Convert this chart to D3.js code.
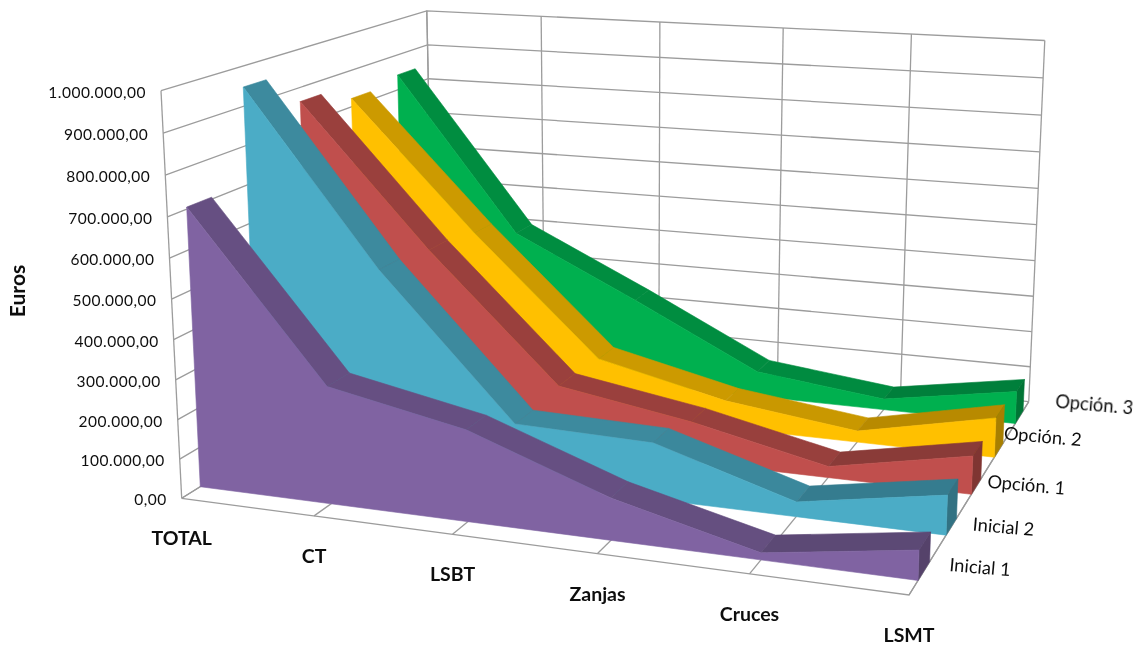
<!DOCTYPE html>
<html>
<head>
<meta charset="utf-8">
<title>Euros</title>
<script src="https://cdn.jsdelivr.net/npm/d3@7"></script>
<style>
  html, body { margin: 0; padding: 0; background: #fff; }
  svg { display: block; }
  text { font-family: Lato, "Open Sans", sans-serif; fill: #111; }
</style>
</head>
<body>
<svg id="drawing_region"></svg>
<script>
// data
const categories = ['TOTAL', 'CT', 'LSBT', 'Zanjas', 'Cruces', 'LSMT'];
const seriesNames = ['Inicial 1', 'Inicial 2', 'Opción. 1', 'Opción. 2', 'Opción. 3'];
const inicial1 = [705000, 295000, 227000, 103000, 17000, 71000];
const inicial2 = [948000, 511000, 151000, 143000, 37000, 98000];
const opcion1 = [863000, 494000, 163000, 106000, 29000, 98000];
const opcion2 = [823000, 474000, 154000, 74000, 30000, 105000];
const opcion3 = [843000, 408000, 244000, 71000, 30000, 89000];
const seriesValues = [inicial1, inicial2, opcion1, opcion2, opcion3];
const yTicks = [0, 100000, 200000, 300000, 400000, 500000, 600000, 700000, 800000, 900000, 1000000];

// colours
const frontColors = ['#8064a2', '#4bacc6', '#c0504d', '#ffc000', '#00b050'];
const topShade = [0.8, 0.8, 0.8, 0.79, 0.72];   // the top band gets darker to the right
const capShade = 0.66;
const gridColor = '#9c9c9c';

// where the box of the chart falls on screen, with its perspective weights
const box = {
  origin: [181.7, 498.3],
  xEnd: [909, 595],
  zEnd: [434, 341],
  yEnd: [161, 90.7],
  wx: 0.89,
  wz: 1.245,
  wy: 0.956
};

const width = 1139, height = 646;

const xScale = d3.scalePoint().domain(categories).range([0, 1]);
const yScale = d3.scaleLinear().domain([0, 1000000]).range([0, 1]);
const zScale = d3.scaleBand().domain(seriesNames).range([0, 1]).paddingInner(0.6).paddingOuter(0.3);

// x, z and y all go from 0 to 1 inside the box
function project(x, z, y) {
  const o = box.origin;
  const w = 1 + x * (box.wx - 1) + z * (box.wz - 1) + y * (box.wy - 1);
  const c = i => (o[i]
    + x * (box.wx * box.xEnd[i] - o[i])
    + z * (box.wz * box.zEnd[i] - o[i])
    + y * (box.wy * box.yEnd[i] - o[i])) / w;
  return [c(0), c(1)];
}

const euro = d3.formatLocale({ decimal: ',', thousands: '.', grouping: [3], currency: ['', '€'] }).format(',.2f');
const line = d3.line();
const polygon = pts => line(pts) + 'Z';
const shade = (color, k) => {
  const c = d3.rgb(color);
  return d3.rgb(c.r * k, c.g * k, c.b * k).formatHex();
};

const svg = d3.select('#drawing_region').attr('width', width).attr('height', height);

// the reference is a soft, scaled up picture
svg.append('defs').append('filter')
  .attr('id', 'soft')
  .attr('x', 0).attr('y', 0).attr('width', 1).attr('height', 1)
  .attr('filterUnits', 'userSpaceOnUse')
  .attr('width', width).attr('height', height)
  .append('feGaussianBlur')
  .attr('stdDeviation', 0.5);

const chart = svg.append('g').attr('filter', 'url(#soft)');

// walls and floor
const grid = chart.append('g')
  .attr('fill', 'none')
  .attr('stroke', gridColor)
  .attr('stroke-width', 1.3);

grid.selectAll('path.wall')
  .data(yTicks)
  .enter()
  .append('path')
  .attr('class', 'wall')
  .attr('d', d => {
    const y = yScale(d);
    return line([project(0, 0, y), project(0, 1, y), project(1, 1, y)]);
  });

grid.selectAll('path.upright')
  .data(categories)
  .enter()
  .append('path')
  .attr('class', 'upright')
  .attr('d', d => line([project(xScale(d), 1, 0), project(xScale(d), 1, 1)]));

grid.selectAll('path.floor')
  .data(categories)
  .enter()
  .append('path')
  .attr('class', 'floor')
  .attr('d', d => line([project(xScale(d), 0, 0), project(xScale(d), 1, 0)]));

grid.append('path').attr('d', line([project(0, 0, 0), project(0, 0, 1)]));
grid.append('path').attr('d', line([project(0, 1, 1), project(0, 1, 0)]));
grid.append('path').attr('d', line([project(0, 0, 0), project(1, 0, 0), project(1, 1, 0)]));

// the series, back to front
const order = d3.range(seriesNames.length).reverse();

order.forEach(s => {
  const name = seriesNames[s];
  const values = seriesValues[s];
  const color = frontColors[s];
  const z0 = zScale(name);
  const z1 = z0 + zScale.bandwidth();
  const g = chart.append('g').attr('class', 'series');
  const last = categories.length - 1;

  // top band, one piece per segment
  g.selectAll('path.top')
    .data(d3.range(last))
    .enter()
    .append('path')
    .attr('class', 'top')
    .attr('d', i => {
      const xa = xScale(categories[i]), xb = xScale(categories[i + 1]);
      const ya = yScale(values[i]), yb = yScale(values[i + 1]);
      return polygon([project(xa, z0, ya), project(xb, z0, yb), project(xb, z1, yb), project(xa, z1, ya)]);
    })
    .attr('fill', i => shade(color, topShade[i]))
    .attr('stroke', i => shade(color, topShade[i]))
    .attr('stroke-width', 0.6);

  // end cap on the right
  const yEnd = yScale(values[last]);
  g.append('path')
    .attr('d', polygon([project(1, z0, 0), project(1, z0, yEnd), project(1, z1, yEnd), project(1, z1, 0)]))
    .attr('fill', shade(color, capShade))
    .attr('stroke', shade(color, capShade))
    .attr('stroke-width', 0.6);

  // front face
  const front = categories.map((c, i) => project(xScale(c), z0, yScale(values[i])));
  g.append('path')
    .attr('d', polygon([project(0, z0, 0), ...front, project(1, z0, 0)]))
    .attr('fill', color)
    .attr('stroke', color)
    .attr('stroke-width', 0.6);
});

// value labels
chart.append('g').selectAll('text')
  .data(yTicks)
  .enter()
  .append('text')
  .attr('x', d => project(0, 0, yScale(d))[0] - 15)
  .attr('y', d => project(0, 0, yScale(d))[1] + 3)
  .attr('text-anchor', 'end')
  .attr('dominant-baseline', 'middle')
  .attr('font-size', 15.5)
  .attr('letter-spacing', 0.5)
  .text(d => euro(d));

// category labels
chart.append('g').selectAll('text')
  .data(categories)
  .enter()
  .append('text')
  .attr('x', d => project(xScale(d), 0, 0)[0])
  .attr('y', d => project(xScale(d), 0, 0)[1] + 42)
  .attr('text-anchor', 'middle')
  .attr('dominant-baseline', 'middle')
  .attr('font-size', 19.5)
  .attr('font-weight', 700)
  .text(d => d);

// series labels next to the right edge of the floor
const labelOffset = [[56, -2], [52, 2], [50, 0], [44, -12], [75, -11]];
chart.append('g').selectAll('text')
  .data(seriesNames)
  .enter()
  .append('text')
  .attr('transform', (d, i) => {
    const p = project(1, zScale(d) + zScale.bandwidth() / 2, 0);
    return `translate(${p[0] + labelOffset[i][0]}, ${p[1] + labelOffset[i][1]}) rotate(5)`;
  })
  .attr('text-anchor', 'middle')
  .attr('dominant-baseline', 'middle')
  .attr('font-size', 18.3)
  .text(d => d);

chart.append('text')
  .attr('transform', 'translate(20, 291) rotate(-90)')
  .attr('text-anchor', 'middle')
  .attr('dominant-baseline', 'middle')
  .attr('font-size', 21)
  .attr('font-weight', 700)
  .text('Euros');
</script>
</body>
</html>
